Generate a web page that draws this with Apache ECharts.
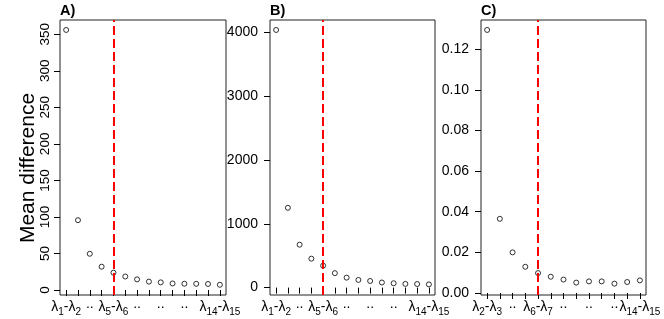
<!DOCTYPE html>
<html>
<head>
<meta charset="utf-8">
<script src="https://cdn.jsdelivr.net/npm/echarts@6/dist/echarts.min.js"></script>
<style>html,body{margin:0;padding:0;background:#fff}#c{width:664px;height:319px}</style>
</head>
<body>
<div id="c"></div>
<script>
// ---- data ----
const valuesA = [355.9, 95.6, 49.6, 31.9, 23.7, 18.5, 14.6, 11.5, 10.5, 9.0, 8.6, 8.5, 8.3, 7.2];
const valuesB = [4036, 1250, 672, 453, 344, 226, 156, 120, 104, 80, 68, 58, 56, 50];
const valuesC = [0.1295, 0.0365, 0.0200, 0.0129, 0.0098, 0.0080, 0.0066, 0.0051, 0.0057, 0.0057, 0.0046, 0.0054, 0.0062];
const xTickPosAB = [1, 3, 5, 7, 9, 11, 14];
const xTickLabelsAB = ['λ1-λ2', '..', 'λ5-λ6', '..', '..', '..', 'λ14-λ15'];
const xTickPosC = [1, 3, 5, 7, 9, 11, 13];
const xTickLabelsC = ['λ2-λ3', '..', 'λ6-λ7', '..', '..', '..', 'λ14-λ15'];
const yTicksA = [0, 50, 100, 150, 200, 250, 300, 350];
const yTicksB = [0, 1000, 2000, 3000, 4000];
const yTicksC = [0, 0.02, 0.04, 0.06, 0.08, 0.10, 0.12];
const cutIndex = [5, 5, 5];
const panelTitles = ['A)', 'B)', 'C)'];
const yTitle = 'Mean difference';

// ---- chart ----
const FONT = 'Liberation Sans';
const chart = echarts.init(document.getElementById('c'), null, {renderer: 'canvas'});

function toRich(s) {
  return s.replace(/λ(\d+)/g, '{l|λ}{s|$1}');
}
function idx(n) { const a = []; for (let i = 1; i <= n; i++) a.push(i); return a; }

const grids = [
  {left: 60, top: 20, width: 166, height: 275},
  {left: 270, top: 20, width: 165, height: 275},
  {left: 481, top: 20, width: 165, height: 275}
];
const yRanges = [[-6.8, 369.5], [-116, 4192], [-0.001, 0.1344]];
const yTicks = [yTicksA, yTicksB, yTicksC];
const allVals = [valuesA, valuesB, valuesC];
const xPos = [xTickPosAB, xTickPosAB, xTickPosC];
const xLab = [xTickLabelsAB, xTickLabelsAB, xTickLabelsC];

const xAxes = [], yAxes = [], series = [];
for (let g = 0; g < 3; g++) {
  const n = allVals[g].length;
  const pad = (n - 1) * 0.04;
  const pos = xPos[g], lab = xLab[g];
  xAxes.push({
    type: 'value', gridIndex: g, min: 1 - pad, max: n + pad,
    axisLine: {show: false},
    splitLine: {show: false},
    axisTick: {show: true, inside: false, length: 6, customValues: idx(n), lineStyle: {color: '#000', width: 1}},
    axisLabel: {
      show: true, customValues: pos, margin: 2,
      fontFamily: FONT, fontSize: 14, color: '#000',
      formatter: function (v) { const i = pos.indexOf(Math.round(v)); return i >= 0 ? toRich(lab[i]) : ''; },
      rich: {
        l: {fontFamily: FONT, fontSize: 14, color: '#000'},
        s: {fontFamily: FONT, fontSize: 10, color: '#000', padding: [10, 0, 0, 0]}
      }
    }
  });
  yAxes.push({
    type: 'value', gridIndex: g, min: yRanges[g][0], max: yRanges[g][1],
    axisLine: {show: false},
    splitLine: {show: false},
    axisTick: {show: true, inside: false, length: 6, customValues: yTicks[g], lineStyle: {color: '#000', width: 1}},
    axisLabel: {
      show: true, customValues: yTicks[g],
      fontFamily: FONT, fontSize: g === 0 ? 13.5 : 14, color: '#000',
      rotate: g === 0 ? 90 : 0,
      margin: g === 0 ? 8 : 12,
      formatter: g === 2 ? function (v) { return v.toFixed(2); } : function (v) { return String(v); }
    }
  });
  series.push({
    type: 'scatter', xAxisIndex: g, yAxisIndex: g,
    data: allVals[g].map((v, i) => [i + 1, v]),
    symbol: 'circle', symbolSize: 5,
    itemStyle: {color: 'rgba(0,0,0,0)', borderColor: '#000', borderWidth: 1},
    silent: true, z: 3,
    markLine: {
      silent: true, symbol: ['none', 'none'], label: {show: false},
      lineStyle: {color: '#ff0000', type: [9, 4], width: 2},
      data: [{xAxis: cutIndex[g]}],
      animation: false
    }
  });
}

const graphics = [];
for (let g = 0; g < 3; g++) {
  graphics.push({
    type: 'text', left: grids[g].left, top: 3,
    style: {text: panelTitles[g], font: 'bold 14.5px "' + FONT + '"', fill: '#000'}
  });
}
graphics.push({
  type: 'text', x: 28, y: 168, rotation: Math.PI / 2,
  style: {text: yTitle, font: '21px "' + FONT + '"', fill: '#000', textAlign: 'center', textVerticalAlign: 'middle'}
});

chart.setOption({
  animation: false,
  backgroundColor: '#fff',
  grid: grids.map(g => Object.assign({show: true, borderColor: '#222', borderWidth: 1, backgroundColor: 'transparent'}, g)),
  xAxis: xAxes,
  yAxis: yAxes,
  series: series,
  graphic: graphics
});
</script>
</body>
</html>
